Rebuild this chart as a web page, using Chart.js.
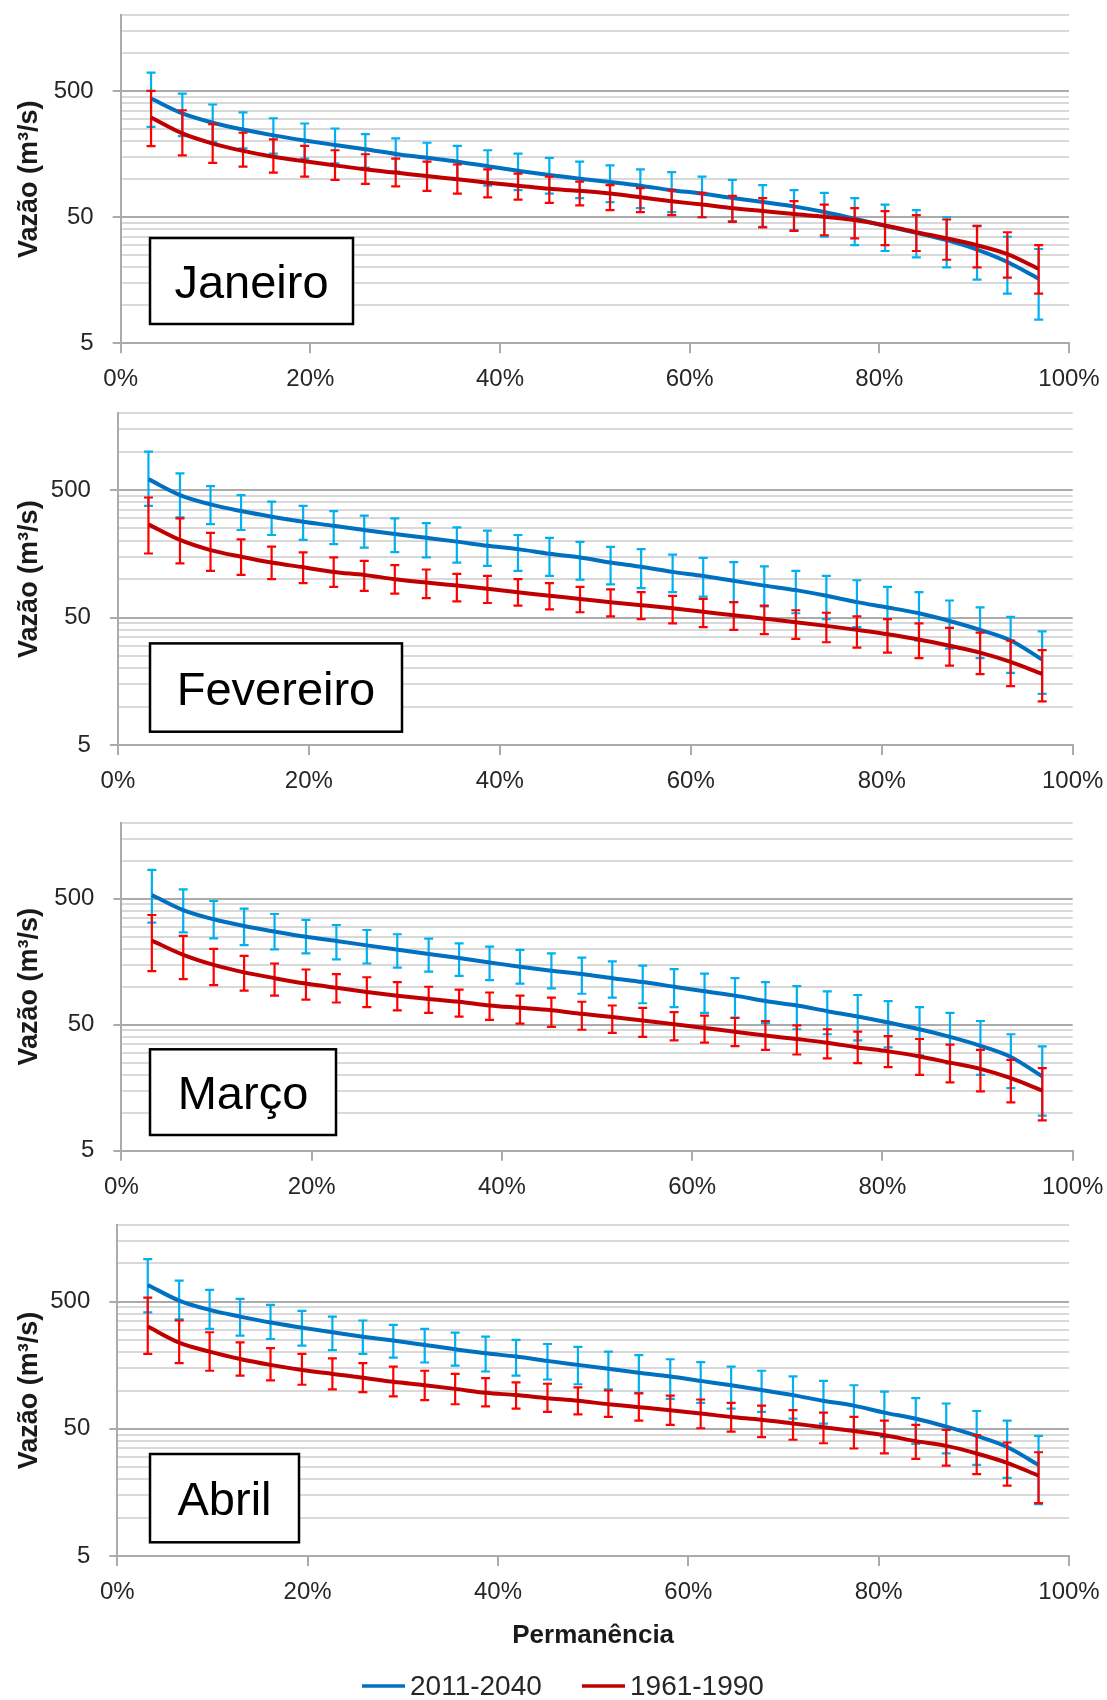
<!DOCTYPE html>
<html lang="pt-BR">
<head>
<meta charset="utf-8">
<title>Curvas de permanência</title>
<script src="https://cdn.jsdelivr.net/npm/chart.js@4.4.1/dist/chart.umd.min.js"></script>
<style>
    html, body { margin: 0; padding: 0; background: #fff; overflow: hidden; }
    #figura { position: relative; width: 1107px; height: 1700px; }
    #figura canvas { position: absolute; left: 0; }
</style>
</head>
<body>
<div id="figura">
    <canvas id="grafJan"></canvas>
    <canvas id="grafFev"></canvas>
    <canvas id="grafMar"></canvas>
    <canvas id="grafAbr"></canvas>
</div>
<script>
// Eixo X: permanência (%) de cada vazão ordenada
const permanencia = [3.2, 6.5, 9.7, 12.9, 16.1, 19.4, 22.6, 25.8, 29.0, 32.3, 35.5, 38.7, 41.9, 45.2, 48.4,
                     51.6, 54.8, 58.1, 61.3, 64.5, 67.7, 71.0, 74.2, 77.4, 80.6, 83.9, 87.1, 90.3, 93.5, 96.8];
const marcasX = [0, 20, 40, 60, 80, 100];

// Eixo Y (log): linhas de grade e valores rotulados
const linhasGrade = [5, 10, 15, 20, 25, 30, 35, 40, 45, 50, 100, 150, 200, 250, 300, 350, 400, 450, 500, 1000, 1500, 2000];
const rotulosY = [5, 50, 500];

const series = ['2011-2040', '1961-1990'];

// Janeiro
const janFut    = [437, 333, 281, 248, 223, 203, 187, 173, 159, 148, 138, 127, 117, 108, 101, 95, 89, 82, 77, 71, 66, 61, 55, 48.6, 42.8, 37.6, 32.9, 27.7, 22.1, 16.3];
const janFutSup = [703, 479, 392, 339, 305, 277, 253, 228, 211, 195, 184, 170, 160, 148, 138, 129, 120, 114, 105, 99, 90, 82, 78, 71, 63, 57, 50, 43, 35, 28];
const janFutInf = [261, 220, 198, 176, 160, 146, 134, 124, 115, 106, 99, 89, 82, 77, 71, 66, 59, 55, 50, 46.5, 42, 39.5, 35, 30, 27, 24, 20, 16, 12.4, 7.7];
const janHist    = [309, 231, 192, 168, 151, 139, 129, 120, 113, 106, 100, 94, 89, 84, 81, 77, 72, 67, 63, 59, 56, 53, 50.5, 47.5, 43, 38, 34, 30, 25.5, 19.5];
const janHistSup = [503, 353, 274, 234, 207, 184, 170, 158, 146, 138, 131, 120, 111, 105, 96, 90, 85, 82, 78, 74, 71, 67, 63, 59, 56, 52, 48, 42.5, 38, 30];
const janHistInf = [183, 155, 135, 126, 113, 105, 99, 92, 88, 81, 77, 72, 69, 65, 62, 57, 55, 52, 50, 46, 41.5, 39, 36, 34, 30, 27, 23, 20, 16.6, 12.4];

// Fevereiro
const fevFut    = [609, 457, 386, 342, 309, 282, 262, 243, 226, 211, 197, 183, 172, 158, 148, 135, 125, 114, 106, 97, 89, 82, 74, 66, 60, 54, 47, 40, 33, 23.4];
const fevFutSup = [1000, 676, 537, 457, 405, 375, 342, 315, 300, 275, 255, 240, 222, 211, 196, 179, 172, 156, 147, 136, 126, 116, 106, 98, 87, 79, 68, 60, 50.6, 39];
const fevFutInf = [375, 305, 270, 243, 222, 203, 188, 177, 163, 148, 135, 127, 116, 106, 99, 91, 85, 79, 73, 66, 61, 54, 48.5, 42, 37, 33, 28.5, 24, 18.4, 12.6];
const fevHist    = [269, 203, 169, 150, 135, 124, 114, 108, 100, 94, 89, 84, 79, 74, 70, 66, 62.5, 59, 55.5, 52, 49, 46, 43, 40, 37, 33.6, 30, 26.5, 22.4, 18];
const fevHistSup = [437, 300, 231, 205, 180, 162, 148, 139, 129, 119, 110, 106, 100, 93, 87, 83, 79, 74, 70, 66, 62, 57, 54.5, 51, 48.5, 45, 41.5, 38, 33, 27.7];
const fevHistInf = [159, 133, 116, 108, 100, 93, 87, 81, 77, 71, 67, 65, 62, 58, 55, 51, 48.5, 45, 42, 40, 37, 34, 32, 29, 26.5, 24, 21, 18, 14.5, 11];

// Março
const marFut    = [535, 406, 343, 303, 274, 249, 231, 213, 197, 182, 169, 156, 144, 134, 126, 117, 109, 100, 92, 85, 77, 71, 64, 58, 52, 46, 40, 34, 27.7, 19.4];
const marFutSup = [845, 593, 479, 417, 378, 339, 309, 282, 261, 241, 221, 208, 196, 184, 170, 159, 147, 138, 127, 117, 109, 101, 92, 86, 77, 69, 62, 53.5, 42, 33.6];
const marFutInf = [323, 270, 242, 214, 198, 184, 165, 153, 142, 132, 122, 113, 106, 97, 88, 82, 74, 69, 62, 57, 51.5, 46, 42, 37.5, 33, 28.5, 24.5, 20, 15.7, 9.5];
const marHist    = [232, 179, 149, 130, 117, 106, 98, 91, 85, 80, 76, 71, 68, 65, 61, 57.5, 54, 50.4, 47, 44, 41, 38.5, 36, 33, 30.7, 28, 25, 22.3, 18.8, 15];
const marHistSup = [371, 253, 200, 176, 153, 137, 126, 119, 109, 100, 95, 90, 85, 82, 76, 71, 68, 63, 59, 56.5, 53.5, 49.4, 46, 44, 40.6, 38.5, 34.7, 31.6, 26.3, 22.6];
const marHistInf = [133, 115, 103, 93, 85, 79, 75, 69, 65, 62, 58, 54.5, 51, 48, 45.6, 43, 40, 37.5, 36, 33.8, 31.6, 29, 27, 24.8, 23, 20, 17.4, 14.8, 12.1, 8.7];

// Abril
const abrFut    = [676, 509, 430, 381, 342, 312, 287, 265, 247, 228, 211, 196, 185, 171, 159, 148, 138, 129, 119, 110, 101, 92, 83, 76, 67, 60, 52, 44, 36, 26];
const abrFutSup = [1077, 731, 618, 525, 471, 423, 381, 355, 328, 305, 285, 265, 250, 232, 220, 202, 190, 176, 167, 154, 143, 129, 119, 110, 98, 87, 79, 69, 58, 44];
const abrFutInf = [412, 363, 305, 270, 254, 225, 208, 194, 181, 166, 157, 141, 131, 122, 112, 102, 96, 86, 80, 72, 68, 60, 55, 49, 43, 38, 32, 26, 20.6, 12.8];
const abrHist    = [318, 238, 202, 177, 159, 145, 135, 126, 117, 110, 103, 96, 92, 87, 83, 78, 74, 70, 66, 62, 59, 55, 51.5, 48, 44.5, 40, 36.7, 32, 27, 21.4];
const abrHistSup = [537, 355, 287, 239, 215, 194, 179, 164, 154, 143, 135, 125, 116, 113, 106, 100, 95, 91, 85, 80, 76, 70, 67, 62, 58, 53.6, 49, 44.7, 39, 32.7];
const abrHistInf = [194, 164, 143, 131, 120, 111, 102, 97, 90, 84, 78, 75, 72, 68, 65, 62, 58, 53.6, 50.5, 47.5, 43, 41, 38.5, 35, 32, 29, 25.7, 22, 17.9, 13];

const FONTE = "'Liberation Sans', Arial, sans-serif";
Chart.defaults.font.family = FONTE;
Chart.defaults.color = '#262626';
Chart.defaults.animation = false;

const CORES = {
    futuro: '#0070C0',
    futuroErro: '#00B0F0',
    historico: '#C00000',
    historicoErro: '#FF0000',
    grade: '#D9D9D9',
    gradeForte: '#ABABAB'
};

// Barras de erro desenhadas antes da linha de cada série
const barrasErro = {
    id: 'barrasErro',
    beforeDatasetDraw(chart, args) {
        const ds = chart.data.datasets[args.index];
        if (!ds.superior) return;
        const { ctx, scales: { x, y } } = chart;
        ctx.save();
        ctx.strokeStyle = ds.corErro;
        ctx.lineWidth = 2.2;
        ds.data.forEach((p, i) => {
            const px = x.getPixelForValue(p.x);
            const ySup = y.getPixelForValue(ds.superior[i]);
            const yInf = y.getPixelForValue(ds.inferior[i]);
            ctx.beginPath();
            ctx.moveTo(px, ySup); ctx.lineTo(px, yInf);
            ctx.moveTo(px - 4.5, ySup); ctx.lineTo(px + 4.5, ySup);
            ctx.moveTo(px - 4.5, yInf); ctx.lineTo(px + 4.5, yInf);
            ctx.stroke();
        });
        ctx.restore();
    }
};

// Caixa com o nome do mês
const caixaMes = {
    id: 'caixaMes',
    beforeDatasetsDraw(chart, args, opts) {
        const { ctx, chartArea } = chart;
        const y = chartArea.bottom - opts.margem - opts.altura;
        ctx.save();
        ctx.fillStyle = '#fff';
        ctx.fillRect(opts.x, y, opts.largura, opts.altura);
        ctx.lineWidth = 2.5;
        ctx.strokeStyle = '#000';
        ctx.strokeRect(opts.x, y, opts.largura, opts.altura);
        ctx.font = '47px ' + FONTE;
        ctx.fillStyle = '#000';
        ctx.textAlign = 'center';
        ctx.textBaseline = 'alphabetic';
        ctx.fillText(opts.texto, opts.x + opts.largura / 2, y + opts.altura / 2 + 17);
        ctx.restore();
    }
};

// Legenda em linha no rodapé do último painel
const legendaLinhas = {
    id: 'legendaLinhas',
    afterDraw(chart, args, opts) {
        const { ctx } = chart;
        ctx.save();
        ctx.font = '28px ' + FONTE;
        ctx.textBaseline = 'middle';
        chart.data.datasets.forEach((ds, i) => {
            const x0 = opts.inicio[i];
            ctx.strokeStyle = ds.borderColor;
            ctx.lineWidth = 3.5;
            ctx.beginPath();
            ctx.moveTo(x0, opts.y);
            ctx.lineTo(x0 + 43, opts.y);
            ctx.stroke();
            ctx.fillStyle = '#262626';
            ctx.fillText(ds.label, x0 + 48, opts.y + 1);
        });
        ctx.restore();
    }
};

const pontos = valores => valores.map((v, i) => ({ x: permanencia[i], y: v }));
const ehForte = v => rotulosY.includes(v);

const paineis = [
    { id: 'grafJan', mes: 'Janeiro', topo: 15.3, base: 343.3, esquerda: 120.7, direita: 1069,
      caixa: { largura: 203, altura: 86, margem: 19.3 },
      fut: [janFut, janFutInf, janFutSup], hist: [janHist, janHistInf, janHistSup] },
    { id: 'grafFev', mes: 'Fevereiro', topo: 413.3, base: 745, esquerda: 117.9, direita: 1072.7,
      caixa: { largura: 252, altura: 88.3, margem: 13.3 },
      fut: [fevFut, fevFutInf, fevFutSup], hist: [fevHist, fevHistInf, fevHistSup] },
    { id: 'grafMar', mes: 'Março', topo: 822.8, base: 1150.7, esquerda: 121.4, direita: 1072.7,
      caixa: { largura: 186, altura: 85.7, margem: 15.7 },
      fut: [marFut, marFutInf, marFutSup], hist: [marHist, marHistInf, marHistSup] },
    { id: 'grafAbr', mes: 'Abril', topo: 1225, base: 1556, esquerda: 117.3, direita: 1069,
      caixa: { largura: 149, altura: 88.3, margem: 13.7 },
      fut: [abrFut, abrFutInf, abrFutSup], hist: [abrHist, abrHistInf, abrHistSup], ultimo: true }
];

function criarPainel(p) {
    const canvas = document.getElementById(p.id);
    const topoCanvas = Math.floor(p.topo - 20);
    const padTopo = p.topo - topoCanvas;
    const alturaArea = p.base - p.topo;
    const alturaX = p.ultimo ? 100 : 60;
    const altura = Math.ceil(padTopo + alturaArea + alturaX + (p.ultimo ? 44 : 0));
    const padBase = altura - padTopo - alturaArea - alturaX;

    canvas.width = 1107;
    canvas.height = altura;
    canvas.style.width = '1107px';
    canvas.style.height = altura + 'px';
    canvas.style.top = topoCanvas + 'px';

    const plugins = [barrasErro, caixaMes];
    if (p.ultimo) plugins.push(legendaLinhas);

    return new Chart(canvas.getContext('2d'), {
        type: 'line',
        data: {
            datasets: [
                {
                    label: series[0],
                    data: pontos(p.fut[0]),
                    inferior: p.fut[1],
                    superior: p.fut[2],
                    borderColor: CORES.futuro,
                    corErro: CORES.futuroErro,
                    borderWidth: 4,
                    pointRadius: 0,
                    cubicInterpolationMode: 'monotone',
                    order: 2
                },
                {
                    label: series[1],
                    data: pontos(p.hist[0]),
                    inferior: p.hist[1],
                    superior: p.hist[2],
                    borderColor: CORES.historico,
                    corErro: CORES.historicoErro,
                    borderWidth: 4,
                    pointRadius: 0,
                    cubicInterpolationMode: 'monotone',
                    order: 1
                }
            ]
        },
        options: {
            responsive: false,
            maintainAspectRatio: false,
            events: [],
            layout: {
                padding: { top: padTopo, right: 1107 - p.direita, bottom: padBase, left: 0 }
            },
            plugins: {
                legend: { display: false },
                tooltip: { enabled: false },
                caixaMes: Object.assign({ x: 150, texto: p.mes }, p.caixa),
                legendaLinhas: { y: 1686 - topoCanvas, inicio: [362, 582] }
            },
            scales: {
                x: {
                    type: 'linear',
                    min: 0,
                    max: 100,
                    afterBuildTicks: s => { s.ticks = marcasX.map(v => ({ value: v })); },
                    afterFit: s => { s.height = alturaX; s.paddingLeft = 0; s.paddingRight = 0; },
                    ticks: {
                        callback: v => v + '%',
                        font: { size: 24 },
                        padding: 12,
                        maxRotation: 0,
                        autoSkip: false
                    },
                    grid: {
                        drawOnChartArea: false,
                        drawTicks: true,
                        tickLength: 10,
                        color: CORES.gradeForte,
                        lineWidth: 2
                    },
                    border: { display: true, color: CORES.gradeForte, width: 2 },
                    title: {
                        display: !!p.ultimo,
                        text: 'Permanência',
                        color: '#1a1a1a',
                        font: { size: 26, weight: 'bold' },
                        padding: { top: 0, bottom: 5 }
                    }
                },
                y: {
                    type: 'logarithmic',
                    min: 5,
                    max: 2000,
                    afterBuildTicks: s => { s.ticks = linhasGrade.map(v => ({ value: v })); },
                    afterFit: s => { s.width = p.esquerda; s.paddingTop = 0; s.paddingBottom = 0; },
                    ticks: {
                        callback: v => (ehForte(v) ? String(v) : ''),
                        font: { size: 24 },
                        padding: 19,
                        autoSkip: false
                    },
                    grid: {
                        color: c => (ehForte(c.tick.value) ? CORES.gradeForte : CORES.grade),
                        lineWidth: 2,
                        drawTicks: true,
                        tickLength: 8,
                        tickWidth: 2,
                        tickColor: c => (ehForte(c.tick.value) ? CORES.gradeForte : 'rgba(0,0,0,0)')
                    },
                    border: { display: true, color: CORES.gradeForte, width: 2 },
                    title: {
                        display: true,
                        text: 'Vazão (m³/s)',
                        color: '#1a1a1a',
                        font: { size: 27, weight: 'bold' },
                        padding: { top: 13, bottom: 0 }
                    }
                }
            }
        },
        plugins
    });
}

paineis.forEach(criarPainel);
</script>
</body>
</html>
